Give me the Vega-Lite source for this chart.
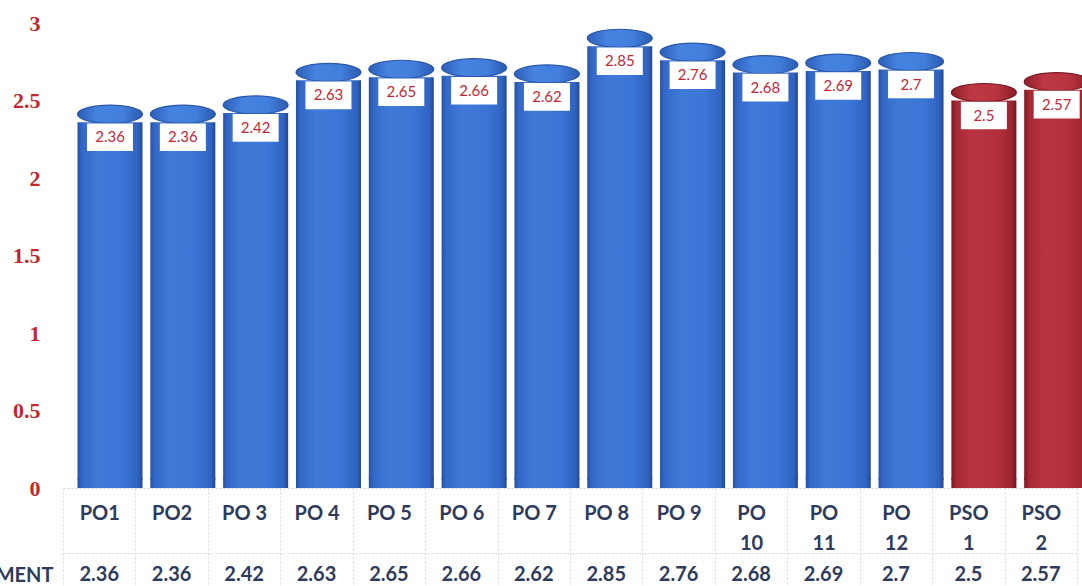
{
  "$schema": "https://vega.github.io/schema/vega-lite/v6.json",
  "width": 1014,
  "height": 465,
  "autosize": {"type": "none"},
  "padding": {"left": 63, "top": 23, "right": 5, "bottom": 98},
  "background": "white",
  "config": {"view": {"stroke": null}},
  "datasets": {
    "po": [
      {"cat": "PO1", "value": 2.36},
      {"cat": "PO2", "value": 2.36},
      {"cat": "PO 3", "value": 2.42},
      {"cat": "PO 4", "value": 2.63},
      {"cat": "PO 5", "value": 2.65},
      {"cat": "PO 6", "value": 2.66},
      {"cat": "PO 7", "value": 2.62},
      {"cat": "PO 8", "value": 2.85},
      {"cat": "PO 9", "value": 2.76},
      {"cat": "PO 10", "value": 2.68},
      {"cat": "PO 11", "value": 2.69},
      {"cat": "PO 12", "value": 2.7},
      {"cat": "PSO 1", "value": 2.5},
      {"cat": "PSO 2", "value": 2.57}
    ]
  },
  "data": {"name": "po"},
  "resolve": {"scale": {"x": "independent"}, "axis": {"x": "independent"}},
  "layer": [
    {
      "mark": {"type": "text", "text": ""},
      "encoding": {
        "x": {
          "field": "cat", "type": "nominal", "sort": null,
          "scale": {"paddingInner": 0, "paddingOuter": 0},
          "axis": {
            "orient": "bottom", "title": null,
            "domain": true, "domainColor": "#d3d8df", "domainDash": [2, 2],
            "ticks": true, "tickBand": "extent", "tickSize": 64, "tickColor": "#d3d8df", "tickDash": [2, 2],
            "labelAngle": 0, "labelPadding": -49, "labelFont": "Lato", "labelFontSize": 20, "labelFontWeight": "bold",
            "labelColor": "#2f3b5c", "labelLineHeight": 30, "labelBaseline": "top",
            "labelExpr": "length(datum.label) > 4 ? split(datum.label, ' ') : datum.label"
          }
        }
      }
    },
    {
      "mark": {"type": "bar", "width": 65, "y2Offset": -9},
      "encoding": {
        "x": {"field": "cat", "type": "nominal", "sort": null,
              "scale": {"range": [10.6, 1030.1], "paddingInner": 0, "paddingOuter": 0}, "axis": null},
        "y": {
          "field": "value", "type": "quantitative",
          "scale": {"domain": [0, 3], "nice": false, "zero": true},
          "axis": {
            "values": [0, 0.5, 1, 1.5, 2, 2.5, 3], "format": "~g", "title": null,
            "grid": false, "domain": false, "ticks": false, "labelPadding": 23,
            "labelFont": "Liberation Serif", "labelFontSize": 22, "labelFontWeight": "bold", "labelColor": "#c1272d"
          }
        },
        "fill": {
          "condition": {"test": "indexof(datum.cat, 'PSO') === 0",
            "value": {"gradient": "linear", "x1": 0, "y1": 0, "x2": 1, "y2": 0, "stops": [
              {"offset": 0, "color": "#7a1822"}, {"offset": 0.07, "color": "#a52935"}, {"offset": 0.3, "color": "#b8333f"},
              {"offset": 0.7, "color": "#b2303c"}, {"offset": 0.93, "color": "#9c2530"}, {"offset": 1, "color": "#6c141d"}]}},
          "value": {"gradient": "linear", "x1": 0, "y1": 0, "x2": 1, "y2": 0, "stops": [
            {"offset": 0, "color": "#2552a6"}, {"offset": 0.07, "color": "#3468c8"}, {"offset": 0.3, "color": "#3f7ad9"},
            {"offset": 0.7, "color": "#3b75d5"}, {"offset": 0.93, "color": "#3063c2"}, {"offset": 1, "color": "#22498f"}]}
        }
      }
    },
    {
      "mark": {"type": "point", "filled": true, "opacity": 1, "yOffset": -9, "size": 4225,
               "shape": "M-1,0A1,0.277,0,1,0,1,0A1,0.277,0,1,0,-1,0Z"},
      "encoding": {
        "x": {"field": "cat", "type": "nominal", "sort": null,
              "scale": {"range": [10.6, 1030.1], "paddingInner": 0, "paddingOuter": 0}, "axis": null},
        "y": {"datum": 0, "type": "quantitative"},
        "fill": {
          "condition": {"test": "indexof(datum.cat, 'PSO') === 0",
            "value": {"gradient": "linear", "x1": 0, "y1": 0, "x2": 1, "y2": 0, "stops": [
              {"offset": 0, "color": "#7a1822"}, {"offset": 0.07, "color": "#a52935"}, {"offset": 0.3, "color": "#b8333f"},
              {"offset": 0.7, "color": "#b2303c"}, {"offset": 0.93, "color": "#9c2530"}, {"offset": 1, "color": "#6c141d"}]}},
          "value": {"gradient": "linear", "x1": 0, "y1": 0, "x2": 1, "y2": 0, "stops": [
            {"offset": 0, "color": "#2552a6"}, {"offset": 0.07, "color": "#3468c8"}, {"offset": 0.3, "color": "#3f7ad9"},
            {"offset": 0.7, "color": "#3b75d5"}, {"offset": 0.93, "color": "#3063c2"}, {"offset": 1, "color": "#22498f"}]}
        }
      }
    },
    {
      "mark": {"type": "point", "filled": true, "opacity": 1, "yOffset": -8, "size": 4225, "strokeWidth": 1.2,
               "shape": "M-1,0A1,0.277,0,1,0,1,0A1,0.277,0,1,0,-1,0Z"},
      "encoding": {
        "x": {"field": "cat", "type": "nominal", "sort": null,
              "scale": {"range": [10.6, 1030.1], "paddingInner": 0, "paddingOuter": 0}, "axis": null},
        "y": {"field": "value", "type": "quantitative"},
        "stroke": {"condition": {"test": "indexof(datum.cat, 'PSO') === 0", "value": "#7a1a24"}, "value": "#2a57a8"},
        "fill": {
          "condition": {"test": "indexof(datum.cat, 'PSO') === 0",
            "value": {"gradient": "linear", "x1": 0, "y1": 0, "x2": 1, "y2": 0, "stops": [
              {"offset": 0, "color": "#8e1f2a"}, {"offset": 0.3, "color": "#bd3844"}, {"offset": 0.7, "color": "#b8343f"}, {"offset": 1, "color": "#8a1d28"}]}},
          "value": {"gradient": "linear", "x1": 0, "y1": 0, "x2": 1, "y2": 0, "stops": [
            {"offset": 0, "color": "#2d5fb8"}, {"offset": 0.3, "color": "#4682e0"}, {"offset": 0.7, "color": "#427edc"}, {"offset": 1, "color": "#2b5bb0"}]}
        }
      }
    },
    {
      "mark": {"type": "point", "filled": true, "opacity": 1, "yOffset": 15, "size": 2116, "fill": "#ffffff",
               "shape": "M-1,-0.6L1,-0.6L1,0.6L-1,0.6Z"},
      "encoding": {
        "x": {"field": "cat", "type": "nominal", "sort": null,
              "scale": {"range": [10.6, 1030.1], "paddingInner": 0, "paddingOuter": 0}, "axis": null},
        "y": {"field": "value", "type": "quantitative"}
      }
    },
    {
      "mark": {"type": "text", "yOffset": 15, "baseline": "middle", "align": "center",
               "font": "Lato", "fontSize": 15, "fill": "#c0283a"},
      "encoding": {
        "x": {"field": "cat", "type": "nominal", "sort": null,
              "scale": {"range": [10.6, 1030.1], "paddingInner": 0, "paddingOuter": 0}, "axis": null},
        "y": {"field": "value", "type": "quantitative"},
        "text": {"field": "value", "type": "quantitative"}
      }
    },
    {
      "mark": {"type": "text", "dy": 87, "baseline": "middle", "align": "center",
               "font": "Lato", "fontSize": 20, "fontWeight": "bold", "fill": "#2f3b5c"},
      "encoding": {
        "x": {
          "field": "cat", "type": "nominal", "sort": null,
          "scale": {"paddingInner": 0, "paddingOuter": 0},
          "axis": {
            "orient": "bottom", "offset": 65, "labels": false,
            "domain": true, "domainColor": "#d3d8df", "domainDash": [2, 2],
            "ticks": true, "tickBand": "extent", "tickSize": 44, "tickColor": "#d3d8df", "tickDash": [2, 2],
            "title": "ATTAINMENT", "titleX": -10, "titleY": 22, "titleAlign": "right", "titleBaseline": "middle",
            "titleAngle": 0, "titleFont": "Lato", "titleFontSize": 20, "titleFontWeight": "bold", "titleColor": "#2f3b5c"
          }
        },
        "y": {"datum": 0, "type": "quantitative"},
        "text": {"field": "value", "type": "quantitative"}
      }
    }
  ]
}
